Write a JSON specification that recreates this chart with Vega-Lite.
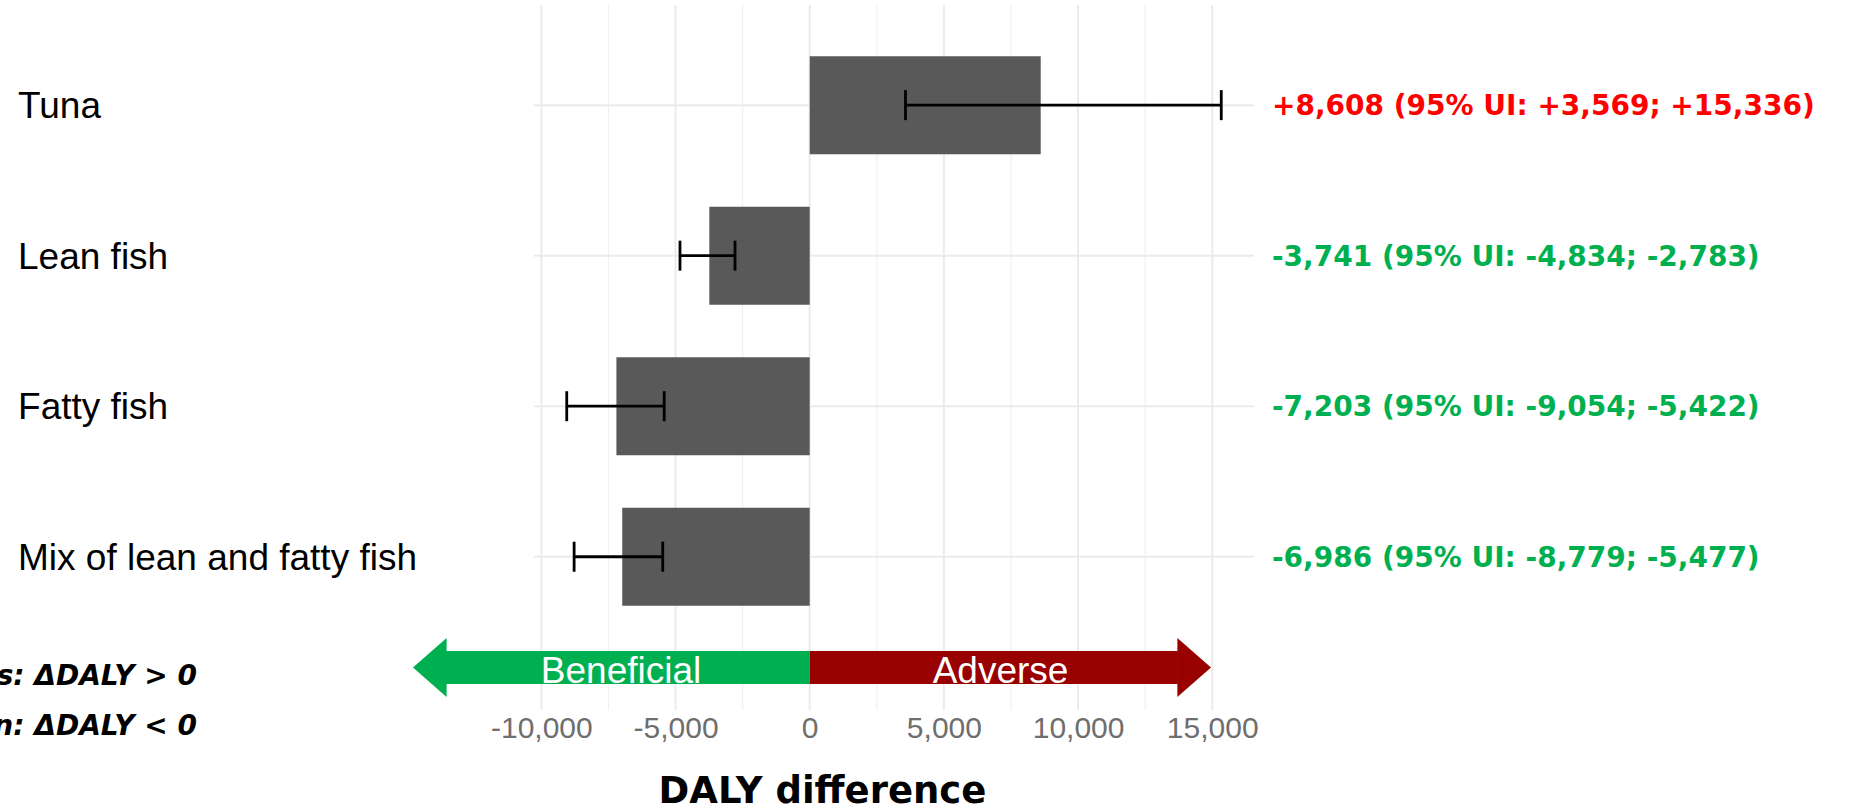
{
  "$schema": "https://vega.github.io/schema/vega-lite/v6.json",
  "width": 720,
  "height": 705,
  "autosize": {"type": "none"},
  "padding": {"left": 534, "top": 5, "right": 607, "bottom": 100},
  "background": "white",
  "config": {"view": {"stroke": null}},
  "datasets": {
    "fish": [
      {"food": "Tuna", "rank": 1, "mean": 8608, "lower": 3569, "upper": 15336, "label": "+8,608 (95% UI: +3,569; +15,336)"},
      {"food": "Lean fish", "rank": 2, "mean": -3741, "lower": -4834, "upper": -2783, "label": "-3,741 (95% UI: -4,834; -2,783)"},
      {"food": "Fatty fish", "rank": 3, "mean": -7203, "lower": -9054, "upper": -5422, "label": "-7,203 (95% UI: -9,054; -5,422)"},
      {"food": "Mix of lean and fatty fish", "rank": 4, "mean": -6986, "lower": -8779, "upper": -5477, "label": "-6,986 (95% UI: -8,779; -5,477)"}
    ],
    "majorGrid": [{"v": -10000}, {"v": -5000}, {"v": 0}, {"v": 5000}, {"v": 10000}, {"v": 15000}],
    "minorGrid": [{"v": -7500}, {"v": -2500}, {"v": 2500}, {"v": 7500}, {"v": 12500}],
    "arrow": [
      {"side": "Beneficial", "end": -13553, "mid": -7030},
      {"side": "Adverse", "end": 13722, "mid": 7110}
    ],
    "notes": [
      {"text": "s: ΔDALY > 0", "pos": 4.80},
      {"text": "n: ΔDALY < 0", "pos": 5.13}
    ]
  },
  "layer": [
    {
      "data": {"name": "majorGrid"},
      "mark": {"type": "rule", "color": "#EBEBEB", "strokeWidth": 2},
      "encoding": {
        "x": {
          "field": "v", "type": "quantitative",
          "scale": {"domain": [-10274, 16556], "nice": false, "zero": false},
          "axis": {
            "values": [-10000, -5000, 0, 5000, 10000, 15000],
            "labelExpr": "replace(format(datum.value, ','), '\u2212', '-')",
            "grid": false, "ticks": false, "domain": false,
            "labelFont": "Liberation Sans", "labelFontSize": 30, "labelColor": "#6E6E6E",
            "labelPadding": 3,
            "title": "DALY difference",
            "titleFont": "DejaVu Sans", "titleFontSize": 37, "titleFontWeight": "bold", "titleColor": "#000000",
            "titleX": 288, "titleY": 81, "titleBaseline": "middle", "titleAlign": "center"
          }
        }
      }
    },
    {
      "data": {"name": "minorGrid"},
      "mark": {"type": "rule", "color": "#F0F0F0", "strokeWidth": 1.2},
      "encoding": {
        "x": {"field": "v", "type": "quantitative", "scale": {"domain": [-10274, 16556], "nice": false, "zero": false}}
      }
    },
    {
      "data": {"name": "fish"},
      "mark": {"type": "rule", "color": "#EBEBEB", "strokeWidth": 2},
      "encoding": {
        "y": {"field": "rank", "type": "quantitative", "scale": {"domain": [0.368, 4.985], "reverse": true, "nice": false, "zero": false}, "axis": null}
      }
    },
    {
      "data": {"name": "fish"},
      "mark": {"type": "bar", "orient": "horizontal", "height": 98, "color": "#595959"},
      "encoding": {
        "x": {"field": "mean", "type": "quantitative", "scale": {"domain": [-10274, 16556], "nice": false, "zero": false}},
        "x2": {"datum": 0},
        "y": {"field": "rank", "type": "quantitative", "scale": {"domain": [0.368, 4.985], "reverse": true, "nice": false, "zero": false}, "axis": null}
      }
    },
    {
      "data": {"name": "fish"},
      "mark": {"type": "rule", "color": "#000000", "strokeWidth": 2.8},
      "encoding": {
        "x": {"field": "lower", "type": "quantitative", "scale": {"domain": [-10274, 16556], "nice": false, "zero": false}},
        "x2": {"field": "upper"},
        "y": {"field": "rank", "type": "quantitative", "scale": {"domain": [0.368, 4.985], "reverse": true, "nice": false, "zero": false}, "axis": null}
      }
    },
    {
      "data": {"name": "fish"},
      "mark": {"type": "point", "shape": "M0,-1L0,1", "size": 900, "filled": false, "stroke": "#000000", "strokeWidth": 2.8, "opacity": 1},
      "encoding": {
        "x": {"field": "lower", "type": "quantitative", "scale": {"domain": [-10274, 16556], "nice": false, "zero": false}},
        "y": {"field": "rank", "type": "quantitative", "scale": {"domain": [0.368, 4.985], "reverse": true, "nice": false, "zero": false}, "axis": null}
      }
    },
    {
      "data": {"name": "fish"},
      "mark": {"type": "point", "shape": "M0,-1L0,1", "size": 900, "filled": false, "stroke": "#000000", "strokeWidth": 2.8, "opacity": 1},
      "encoding": {
        "x": {"field": "upper", "type": "quantitative", "scale": {"domain": [-10274, 16556], "nice": false, "zero": false}},
        "y": {"field": "rank", "type": "quantitative", "scale": {"domain": [0.368, 4.985], "reverse": true, "nice": false, "zero": false}, "axis": null}
      }
    },
    {
      "data": {"name": "arrow"},
      "mark": {"type": "bar", "orient": "horizontal", "height": 33},
      "encoding": {
        "x": {"field": "end", "type": "quantitative", "scale": {"domain": [-10274, 16556], "nice": false, "zero": false}},
        "x2": {"datum": 0},
        "y": {"datum": 4.736, "type": "quantitative", "scale": {"domain": [0.368, 4.985], "reverse": true, "nice": false, "zero": false}, "axis": null},
        "color": {"field": "side", "type": "nominal", "scale": {"domain": ["Beneficial", "Adverse"], "range": ["#00B050", "#990000"]}, "legend": null}
      }
    },
    {
      "data": {"name": "arrow"},
      "mark": {"type": "point", "filled": true, "size": 3481, "opacity": 1, "strokeWidth": 0},
      "encoding": {
        "x": {"field": "end", "type": "quantitative", "scale": {"domain": [-10274, 16556], "nice": false, "zero": false}},
        "y": {"datum": 4.736, "type": "quantitative", "scale": {"domain": [0.368, 4.985], "reverse": true, "nice": false, "zero": false}, "axis": null},
        "color": {"field": "side", "type": "nominal", "scale": {"domain": ["Beneficial", "Adverse"], "range": ["#00B050", "#990000"]}, "legend": null},
        "shape": {"field": "side", "type": "nominal", "scale": {"domain": ["Beneficial", "Adverse"], "range": ["M0.02,-1L-1.12,0L0.02,1Z", "M-0.02,-1L1.12,0L-0.02,1Z"]}, "legend": null}
      }
    },
    {
      "data": {"name": "arrow"},
      "mark": {"type": "text", "font": "Liberation Sans", "fontSize": 37, "color": "#FFFFFF", "align": "center", "baseline": "middle", "dy": 4},
      "encoding": {
        "x": {"field": "mid", "type": "quantitative", "scale": {"domain": [-10274, 16556], "nice": false, "zero": false}},
        "y": {"datum": 4.736, "type": "quantitative", "scale": {"domain": [0.368, 4.985], "reverse": true, "nice": false, "zero": false}, "axis": null},
        "text": {"field": "side"}
      }
    },
    {
      "data": {"name": "fish"},
      "mark": {"type": "text", "font": "Liberation Sans", "fontSize": 37, "color": "#000000", "align": "left", "baseline": "middle", "dy": 2},
      "encoding": {
        "x": {"datum": -29501, "type": "quantitative", "scale": {"domain": [-10274, 16556], "nice": false, "zero": false}},
        "y": {"field": "rank", "type": "quantitative", "scale": {"domain": [0.368, 4.985], "reverse": true, "nice": false, "zero": false}, "axis": null},
        "text": {"field": "food"}
      }
    },
    {
      "data": {"name": "fish"},
      "mark": {"type": "text", "font": "DejaVu Sans", "fontWeight": "bold", "fontSize": 28, "align": "left", "baseline": "middle", "dy": 2},
      "encoding": {
        "x": {"datum": 17225, "type": "quantitative", "scale": {"domain": [-10274, 16556], "nice": false, "zero": false}},
        "y": {"field": "rank", "type": "quantitative", "scale": {"domain": [0.368, 4.985], "reverse": true, "nice": false, "zero": false}, "axis": null},
        "text": {"field": "label"},
        "color": {"condition": {"test": "datum.mean > 0", "value": "#FF0000"}, "value": "#00B050"}
      }
    },
    {
      "data": {"name": "notes"},
      "mark": {"type": "text", "font": "DejaVu Sans", "fontWeight": "bold", "fontStyle": "italic", "fontSize": 28, "color": "#000000", "align": "right", "baseline": "middle"},
      "encoding": {
        "x": {"datum": -22831, "type": "quantitative", "scale": {"domain": [-10274, 16556], "nice": false, "zero": false}},
        "y": {"field": "pos", "type": "quantitative", "scale": {"domain": [0.368, 4.985], "reverse": true, "nice": false, "zero": false}, "axis": null},
        "text": {"field": "text"}
      }
    }
  ]
}
